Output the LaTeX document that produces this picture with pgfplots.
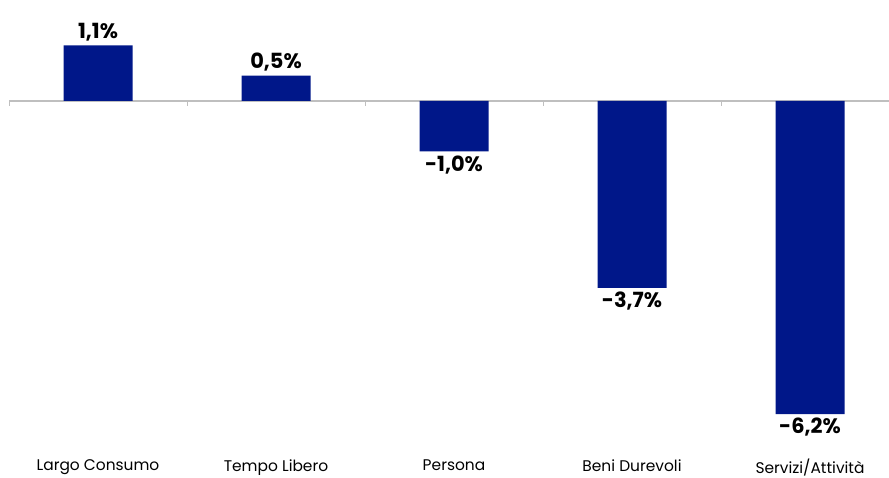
\documentclass[border=0pt]{standalone}
\usepackage{fontspec}
\setmainfont{Poppins}
\usepackage{pgfplots}
\pgfplotsset{compat=1.18}
\definecolor{barblue}{RGB}{0,23,137}
\definecolor{axgray}{RGB}{191,191,191}
\begin{document}
\begin{tikzpicture}
\useasboundingbox (0,0) rectangle (889bp,478bp);
\begin{axis}[
  at={(0,23bp)}, anchor=south west,
  x=178bp, y=50.5bp,
  xmin=-0.5506, xmax=4.444,
  ymin=-7.01, ymax=2.0,
  axis line style={draw=none},
  ytick=\empty,
  xtick={0,1,2,3,4},
  xticklabels={Largo Consumo,Tempo Libero,Persona,Beni Durevoli,Servizi/Attività},
  x tick style={draw=none},
  x tick label style={font=\fontsize{15.5}{17}\selectfont, text=black, inner sep=0pt, yshift=0bp},
  clip=false,
  ybar, bar width=69bp,
  nodes near coords={\pgfmathprintnumber[fixed,fixed zerofill,precision=1,use comma,assume math mode=true]{\pgfplotspointmeta}\%},
  nodes near coords align=vertical,
  every node near coord/.append style={font=\bfseries\fontsize{21}{24}\selectfont, text=black, inner sep=4bp},
]
\draw[axgray, line width=1.5bp] (axis cs:-0.5,0) -- (axis cs:4.444,0);
\pgfplotsinvokeforeach{-0.5,0.5,1.5,2.5,3.5}{
  \draw[axgray, line width=1bp] (axis cs:#1,0) -- ([yshift=-5bp]axis cs:#1,0);
}
\addplot[fill=barblue, draw=none] coordinates {(0,1.1) (1,0.5) (2,-1.0) (3,-3.7) (4,-6.2)};
\end{axis}
\end{tikzpicture}
\end{document}
